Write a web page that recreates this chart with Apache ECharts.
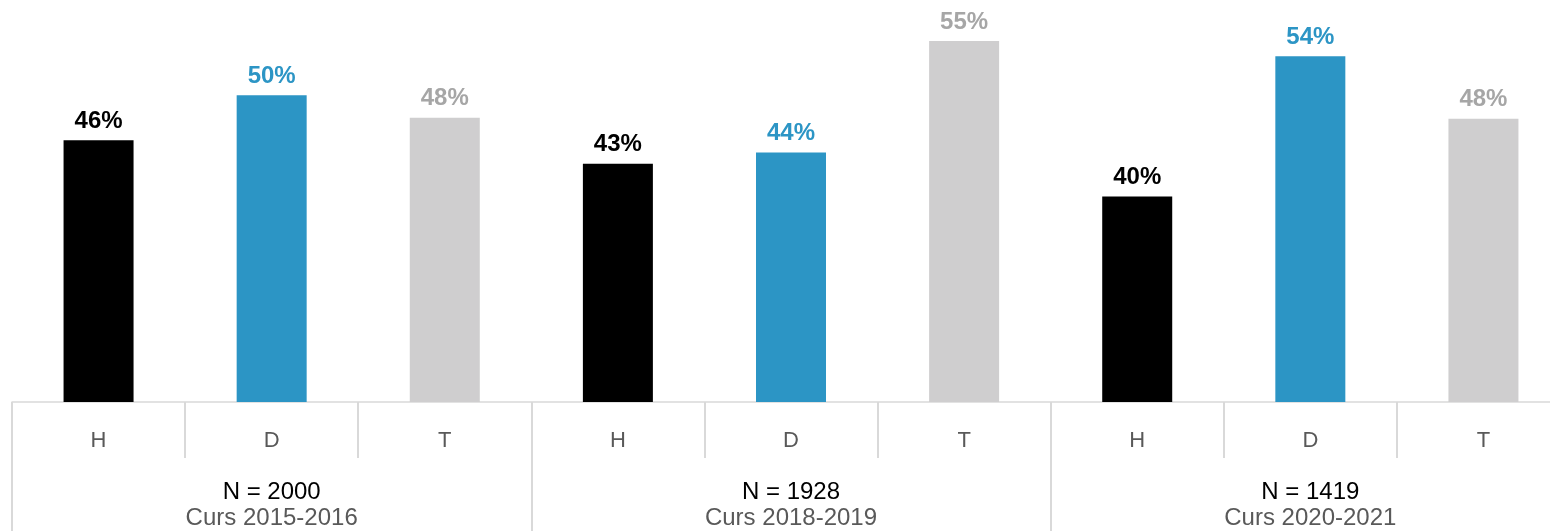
<!DOCTYPE html>
<html>
<head>
<meta charset="utf-8">
<script src="https://cdn.jsdelivr.net/npm/echarts@6/dist/echarts.min.js"></script>
<style>html,body{margin:0;padding:0;background:#fff;overflow:hidden;width:1550px;height:531px;}#c{width:1570px;height:531px;}</style>
</head>
<body>
<div id="c"></div>
<script>
var categories = ['H', 'D', 'T', 'H', 'D', 'T', 'H', 'D', 'T'];
var values = [45.6, 50.0, 47.8, 43.3, 44.4, 55.3, 40.1, 53.8, 47.7];
var groupN = ['N = 2000', 'N = 1928', 'N = 1419'];
var groupCourses = ['Curs 2015-2016', 'Curs 2018-2019', 'Curs 2020-2021'];

var barColors = ['#000000', '#2c95c5', '#cfcecf'];
var labelColors = ['#000000', '#2c95c5', '#a6a6a6'];

var chart = echarts.init(document.getElementById('c'));
var data = values.map(function (v, i) {
  return {
    value: v,
    itemStyle: { color: barColors[i % 3] },
    label: { color: labelColors[i % 3] }
  };
});
var groups = groupN.map(function (n, i) { return n + '\n' + groupCourses[i]; });
var FF = 'Liberation Sans, Arial, sans-serif';

chart.setOption({
  animation: false,
  grid: { left: 12, top: 0, bottom: 129, right: 0 },
  xAxis: [{
    type: 'category',
    data: categories,
    position: 'bottom',
    axisLine: { show: true, lineStyle: { color: '#d9d9d9', width: 1.5 } },
    axisTick: { show: true, interval: 0, length: 56, lineStyle: { color: '#d9d9d9', width: 2 } },
    axisLabel: { interval: 0, margin: 28, color: '#595959', fontSize: 22, fontFamily: FF }
  }, {
    type: 'category',
    data: groups,
    position: 'bottom',
    axisLine: { show: false },
    axisTick: { show: true, interval: 0, length: 129, lineStyle: { color: '#d9d9d9', width: 2 } },
    axisLabel: {
      interval: 0, margin: 77,
      formatter: function (v) {
        var p = v.split('\n');
        return '{n|' + p[0] + '}\n{c|' + p[1] + '}';
      },
      rich: {
        n: { color: '#000000', fontSize: 24, lineHeight: 26, fontFamily: FF },
        c: { color: '#595959', fontSize: 24, lineHeight: 26, fontFamily: FF }
      }
    }
  }],
  yAxis: { type: 'value', min: 20, max: 59.3, show: false, splitLine: { show: false } },
  series: [{
    type: 'bar',
    xAxisIndex: 0,
    data: data,
    barWidth: 70,
    label: {
      show: true, position: 'top', distance: 7,
      fontSize: 24, fontWeight: 'bold', fontFamily: FF,
      formatter: function (p) { return Math.round(p.value) + '%'; }
    }
  }]
});
</script>
</body>
</html>
